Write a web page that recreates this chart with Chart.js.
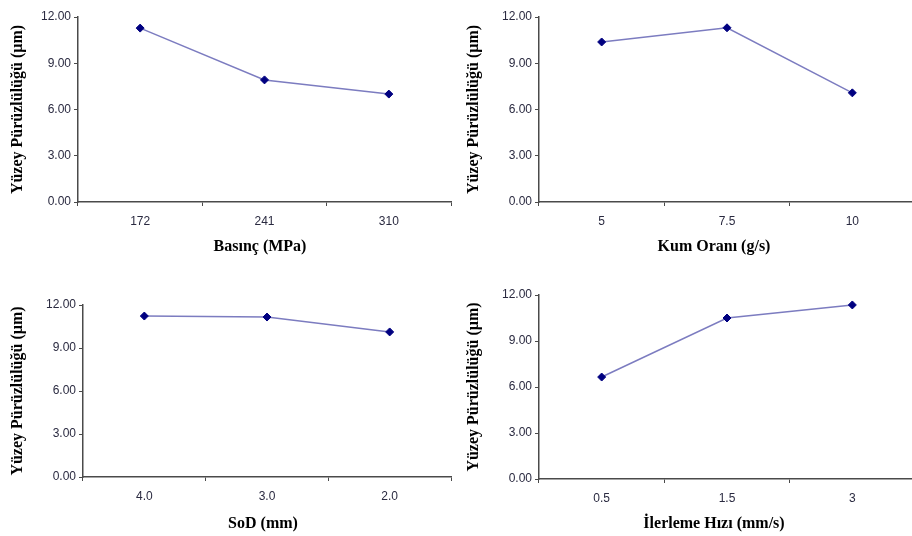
<!DOCTYPE html>
<html>
<head>
<meta charset="utf-8">
<title>Yüzey Pürüzlülüğü</title>
<script src="https://cdn.jsdelivr.net/npm/chart.js@4/dist/chart.umd.min.js"></script>
<style>
    html, body { margin: 0; padding: 0; background: #fff; }
    body { width: 912px; height: 536px; position: relative; overflow: hidden; }
    .panel { position: absolute; }
</style>
</head>
<body>
<div class="panel" style="left:0;top:0;width:456px;height:268px"><canvas id="basinc"></canvas></div>
<div class="panel" style="left:456px;top:0;width:464px;height:268px"><canvas id="kum"></canvas></div>
<div class="panel" style="left:0;top:268px;width:456px;height:268px"><canvas id="sod"></canvas></div>
<div class="panel" style="left:456px;top:268px;width:464px;height:268px"><canvas id="ilerleme"></canvas></div>
<script>
// Ortak eksen
const yTicks = [0, 3, 6, 9, 12];
const yTitle = 'Yüzey Pürüzlülüğü (µm)';

// Basınç
const basincLabels = ['172', '241', '310'];
const basincValues = [11.28, 7.92, 7.0];

// Kum oranı
const kumLabels = ['5', '7.5', '10'];
const kumValues = [10.38, 11.3, 7.08];

// SoD
const sodLabels = ['4.0', '3.0', '2.0'];
const sodValues = [11.23, 11.16, 10.12];

// İlerleme hızı
const ilerlemeLabels = ['0.5', '1.5', '3'];
const ilerlemeValues = [6.65, 10.5, 11.35];

const LINE_COLOR = '#7c7cc0';
const MARKER_COLOR = '#000080';
const AXIS_COLOR = '#4a4a4a';
const TICK_COLOR = '#2a2a40';
const TICK_FONT = { family: '"Liberation Sans", Arial, sans-serif', size: 12 };

/**
 * Draws the x axis title at a fixed centre below the plot
 */
const xTitlePlugin = {
    id: 'xTitle',
    afterDraw(chart, args, opts) {
        if (!opts.text) return;
        const ctx = chart.ctx;
        ctx.save();
        ctx.font = 'bold 16px "Liberation Serif", "Times New Roman", serif';
        ctx.fillStyle = '#000';
        ctx.textAlign = 'center';
        ctx.textBaseline = 'middle';
        ctx.fillText(opts.text, opts.cx, opts.cy);
        ctx.restore();
    }
};

function makeChart(id, labels, values, box) {
    const ctx = document.getElementById(id).getContext('2d');
    return new Chart(ctx, {
        type: 'line',
        data: {
            labels: labels,
            datasets: [{
                data: values,
                borderColor: LINE_COLOR,
                borderWidth: 1.5,
                pointStyle: 'rectRot',
                pointRadius: 4,
                pointHoverRadius: 4,
                pointBackgroundColor: MARKER_COLOR,
                pointBorderColor: MARKER_COLOR,
                pointBorderWidth: 1,
                tension: 0
            }]
        },
        plugins: [xTitlePlugin],
        options: {
            responsive: true,
            maintainAspectRatio: false,
            animation: false,
            layout: {
                padding: { left: 0, top: box.top, right: box.right, bottom: 0 }
            },
            plugins: {
                legend: { display: false },
                tooltip: { enabled: false },
                xTitle: { text: box.xTitle, cx: box.titleX, cy: box.titleY }
            },
            scales: {
                x: {
                    type: 'category',
                    offset: true,
                    afterFit(scale) { scale.height = box.xHeight; },
                    grid: {
                        offset: true,
                        drawOnChartArea: false,
                        drawTicks: true,
                        tickLength: 4,
                        color: AXIS_COLOR,
                        lineWidth: 1
                    },
                    border: { display: true, color: AXIS_COLOR, width: 1.5 },
                    ticks: {
                        color: TICK_COLOR,
                        padding: 8,
                        maxRotation: 0,
                        font: TICK_FONT
                    }
                },
                y: {
                    min: 0,
                    max: 12,
                    afterFit(scale) { scale.width = box.yWidth; },
                    afterBuildTicks(scale) {
                        scale.ticks = yTicks.map(v => ({ value: v }));
                    },
                    grid: {
                        drawOnChartArea: false,
                        drawTicks: true,
                        tickLength: 4,
                        color: AXIS_COLOR,
                        lineWidth: 1
                    },
                    border: { display: true, color: AXIS_COLOR, width: 1.5 },
                    ticks: {
                        color: TICK_COLOR,
                        padding: 3,
                        font: TICK_FONT,
                        callback: v => Number(v).toFixed(2)
                    },
                    title: {
                        display: true,
                        text: yTitle,
                        color: '#000',
                        padding: { top: 8, bottom: 0 },
                        font: { family: '"Liberation Serif", "Times New Roman", serif', size: 16, weight: 'bold' }
                    }
                }
            }
        }
    });
}

makeChart('basinc', basincLabels, basincValues,
    { top: 17, right: 0, yWidth: 78, xHeight: 66, xTitle: 'Basınç (MPa)', titleX: 260, titleY: 247 });
makeChart('kum', kumLabels, kumValues,
    { top: 17, right: 0, yWidth: 83, xHeight: 66, xTitle: 'Kum Oranı (g/s)', titleX: 258, titleY: 247 });
makeChart('sod', sodLabels, sodValues,
    { top: 37, right: 4, yWidth: 83, xHeight: 59, xTitle: 'SoD (mm)', titleX: 263, titleY: 256 });
makeChart('ilerleme', ilerlemeLabels, ilerlemeValues,
    { top: 27, right: 0, yWidth: 83, xHeight: 57, xTitle: 'İlerleme Hızı (mm/s)', titleX: 258, titleY: 256 });
</script>
</body>
</html>
